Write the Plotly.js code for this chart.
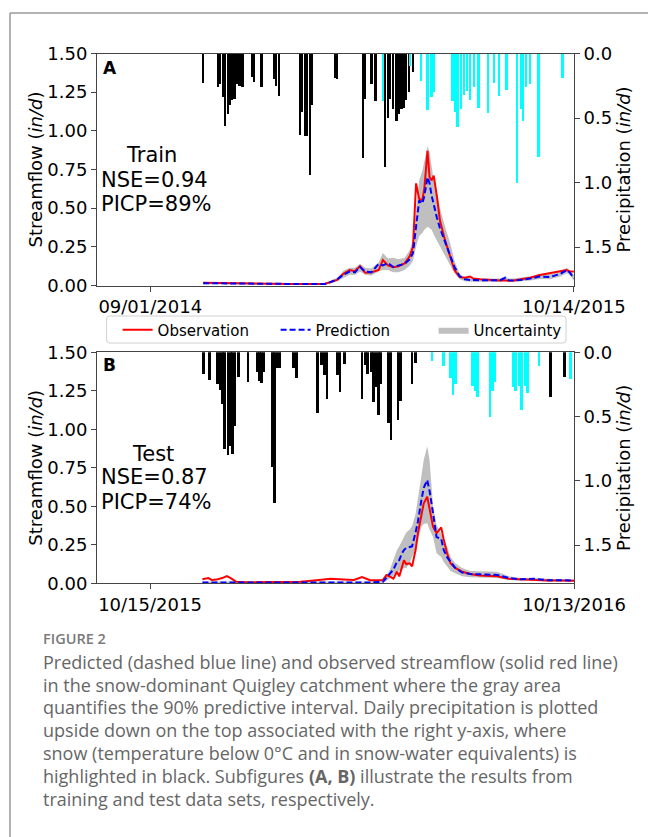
<!DOCTYPE html>
<html>
<head>
<meta charset="utf-8">
<script src="https://cdn.plot.ly/plotly-3.0.1.min.js"></script>
<style>
  html, body { margin: 0; padding: 0; background: #ffffff; }
  #chart { width: 648px; height: 837px; }
</style>
</head>
<body>
<div id="chart"></div>
<script>
// ---------- Panel A: training period (days counted from 09/01/2014) ----------
const trainDays = [51, 77, 106, 135, 168, 173, 180, 186, 192, 197, 202, 207, 213, 220, 224, 229, 234, 239, 245, 250,
                   253, 256, 259, 262, 264, 267, 269, 271, 273, 276, 279, 284, 289, 293, 298, 303, 308, 311, 318, 327,
                   337, 342, 345, 350, 356, 366, 375, 385, 395, 401, 404, 408];
const trainObs = [0.018, 0.014, 0.012, 0.010, 0.010, 0.020, 0.036, 0.075, 0.100, 0.092, 0.125, 0.082, 0.085, 0.100, 0.165, 0.130, 0.118, 0.125, 0.143, 0.190,
                  0.250, 0.660, 0.560, 0.550, 0.630, 0.870, 0.700, 0.680, 0.710, 0.580, 0.420, 0.290, 0.180, 0.100, 0.055, 0.050, 0.058, 0.045, 0.040, 0.035,
                  0.033, 0.032, 0.030, 0.032, 0.040, 0.050, 0.068, 0.080, 0.090, 0.100, 0.090, 0.090];
const trainPred = [0.015, 0.012, 0.010, 0.010, 0.010, 0.020, 0.040, 0.070, 0.090, 0.085, 0.120, 0.090, 0.085, 0.140, 0.130, 0.145, 0.120, 0.130, 0.140, 0.170,
                   0.210, 0.380, 0.550, 0.530, 0.580, 0.700, 0.660, 0.580, 0.520, 0.440, 0.370, 0.280, 0.200, 0.120, 0.060, 0.040, 0.035, 0.035, 0.033, 0.033,
                   0.034, 0.050, 0.034, 0.032, 0.035, 0.045, 0.058, 0.055, 0.075, 0.100, 0.085, 0.045];
const trainUpper = [0.022, 0.018, 0.016, 0.015, 0.016, 0.030, 0.050, 0.095, 0.115, 0.115, 0.140, 0.115, 0.110, 0.150, 0.210, 0.175, 0.180, 0.170, 0.180, 0.230,
                    0.300, 0.500, 0.680, 0.740, 0.800, 0.900, 0.860, 0.760, 0.680, 0.600, 0.500, 0.380, 0.270, 0.160, 0.075, 0.050, 0.045, 0.045, 0.043, 0.045,
                    0.045, 0.060, 0.045, 0.045, 0.050, 0.060, 0.075, 0.075, 0.090, 0.115, 0.100, 0.070];
const trainLower = [0.008, 0.006, 0.005, 0.005, 0.005, 0.012, 0.028, 0.050, 0.070, 0.068, 0.090, 0.070, 0.065, 0.090, 0.100, 0.100, 0.085, 0.085, 0.100, 0.130,
                    0.160, 0.250, 0.320, 0.340, 0.360, 0.380, 0.370, 0.360, 0.330, 0.290, 0.250, 0.190, 0.130, 0.080, 0.040, 0.028, 0.025, 0.025, 0.023, 0.022,
                    0.023, 0.035, 0.024, 0.022, 0.025, 0.032, 0.042, 0.040, 0.058, 0.080, 0.070, 0.030];
// daily precipitation (in/d): snow days and rain days
const trainSnowDays = [51, 65, 67, 70, 72, 75, 77, 79, 81, 84, 86, 89, 98, 100, 107, 119, 121, 124, 144, 146,
                       149, 151, 154, 156, 178, 180, 205, 207, 213, 217, 226, 229, 231, 234, 237, 239, 242, 244, 246, 249, 253];
const trainSnow = [0.23, 0.26, 0.24, 0.34, 0.56, 0.47, 0.40, 0.36, 0.35, 0.24, 0.25, 0.26, 0.18, 0.22, 0.26, 0.20, 0.25, 0.33, 0.63, 0.45,
                   0.64, 0.64, 0.94, 0.40, 0.19, 0.20, 0.81, 0.35, 0.24, 0.37, 0.88, 0.50, 0.35, 0.43, 0.52, 0.47, 0.43, 0.42, 0.36, 0.30, 0.14];
const trainRainDays = [224, 250, 261, 267, 271, 273, 291, 294, 296, 299, 302, 305, 308, 312, 316, 325, 331, 336, 343, 353,
                       357, 359, 362, 366, 374, 397];
const trainRain = [0.37, 0.10, 0.21, 0.44, 0.34, 0.30, 0.37, 0.45, 0.57, 0.43, 0.32, 0.29, 0.36, 0.26, 0.42, 0.46, 0.23, 0.33, 0.28, 1.00,
                   0.43, 0.52, 0.26, 0.24, 0.80, 0.19];

// ---------- Panel B: test period (days counted from 10/15/2015) ----------
const testDays = [45, 50, 53, 57, 62, 66, 70, 74, 86, 114, 129, 143, 155, 166, 175, 182, 189, 200, 203, 206,
                  209, 212, 214, 216, 218, 220, 223, 225, 228, 230, 233, 235, 238, 240, 243, 246, 250, 252, 255, 258,
                  262, 268, 275, 283, 298, 308, 318, 329, 341, 352, 364];
const testObs = [0.026, 0.034, 0.022, 0.024, 0.034, 0.047, 0.030, 0.010, 0.006, 0.006, 0.010, 0.020, 0.030, 0.025, 0.022, 0.040, 0.020, 0.022, 0.054, 0.043,
                 0.030, 0.075, 0.045, 0.097, 0.150, 0.125, 0.130, 0.110, 0.216, 0.325, 0.455, 0.520, 0.562, 0.480, 0.367, 0.325, 0.363, 0.290, 0.195, 0.130,
                 0.100, 0.075, 0.060, 0.050, 0.045, 0.030, 0.026, 0.024, 0.018, 0.018, 0.016];
const testPred = [0.006, 0.006, 0.006, 0.006, 0.006, 0.006, 0.006, 0.005, 0.005, 0.005, 0.005, 0.005, 0.005, 0.005, 0.005, 0.005, 0.005, 0.010, 0.036, 0.060,
                  0.090, 0.140, 0.150, 0.190, 0.216, 0.230, 0.235, 0.240, 0.330, 0.400, 0.540, 0.620, 0.670, 0.600, 0.455, 0.300, 0.290, 0.220, 0.170, 0.140,
                  0.100, 0.070, 0.060, 0.058, 0.054, 0.035, 0.026, 0.030, 0.020, 0.020, 0.018];
const testUpper = [0.012, 0.012, 0.012, 0.012, 0.012, 0.012, 0.012, 0.011, 0.011, 0.011, 0.011, 0.011, 0.011, 0.011, 0.011, 0.012, 0.012, 0.020, 0.050, 0.090,
                   0.150, 0.216, 0.240, 0.270, 0.300, 0.330, 0.350, 0.370, 0.450, 0.540, 0.700, 0.800, 0.890, 0.800, 0.500, 0.380, 0.325, 0.290, 0.240, 0.170,
                   0.130, 0.100, 0.080, 0.078, 0.075, 0.045, 0.035, 0.035, 0.028, 0.026, 0.024];
const testLower = [0.002, 0.002, 0.002, 0.002, 0.002, 0.002, 0.002, 0.002, 0.002, 0.002, 0.002, 0.002, 0.002, 0.002, 0.002, 0.002, 0.002, 0.003, 0.015, 0.030,
                   0.050, 0.075, 0.080, 0.090, 0.100, 0.100, 0.130, 0.170, 0.216, 0.280, 0.367, 0.385, 0.390, 0.350, 0.300, 0.195, 0.170, 0.140, 0.110, 0.080,
                   0.065, 0.045, 0.040, 0.038, 0.035, 0.022, 0.016, 0.020, 0.012, 0.012, 0.010];
const testSnowDays = [46, 51, 58, 60, 62, 64, 67, 69, 71, 73, 76, 84, 92, 94, 96, 98, 105, 107, 109, 111,
                      123, 126, 144, 147, 150, 152, 161, 163, 167, 182, 185, 187, 190, 192, 194, 196, 198, 205, 207, 213,
                      215, 225, 228, 344, 356];
const testSnow = [0.17, 0.215, 0.25, 0.29, 0.40, 0.75, 0.80, 0.73, 0.79, 0.57, 0.19, 0.23, 0.15, 0.22, 0.24, 0.15, 0.89, 1.17, 0.12, 0.12,
                  0.12, 0.20, 0.47, 0.10, 0.18, 0.36, 0.18, 0.31, 0.09, 0.36, 0.10, 0.17, 0.15, 0.39, 0.27, 0.49, 0.25, 0.55, 0.68, 0.53,
                  0.38, 0.25, 0.08, 0.35, 0.19];
const testRainDays = [242, 252, 258, 260, 262, 277, 279, 281, 292, 294, 296, 312, 314, 317, 319, 322, 324, 334, 361];
const testRain = [0.07, 0.11, 0.20, 0.33, 0.25, 0.26, 0.30, 0.35, 0.50, 0.30, 0.23, 0.27, 0.30, 0.26, 0.45, 0.26, 0.32, 0.11, 0.21];

// ---------- axis labels ----------
const trainTickVals = [0, 408];
const trainTickText = ['09/01/2014', '10/14/2015'];
const testTickVals = [0, 364];
const testTickText = ['10/15/2015', '10/13/2016'];
const flowTicks = [0, 0.25, 0.5, 0.75, 1.0, 1.25, 1.5];
const precipTicks = [0, 0.5, 1.0, 1.5];

const captionLines = [
  'Predicted (dashed blue line) and observed streamflow (solid red line)',
  'in the snow-dominant Quigley catchment where the gray area',
  'quantifies the 90% predictive interval. Daily precipitation is plotted',
  'upside down on the top associated with the right y-axis, where',
  'snow (temperature below 0°C and in snow-water equivalents) is',
  'highlighted in black. Subfigures <b>(A, B)</b> illustrate the results from',
  'training and test data sets, respectively.'
];

// ---------- drawing ----------
const W = 648, H = 837;
const px = v => v / W;          // pixel column -> paper x
const py = v => 1 - v / H;      // pixel row -> paper y
const FONT = 'DejaVu Sans, Arial, sans-serif';
const CAP_FONT = '"Open Sans", "Noto Sans", sans-serif';

const RED = '#ff0000', BLUE = '#0000ff', BAND = '#bfbfbf';

function panelTraces(xa, ya, ya2, days, obs, pred, up, lo, sd, sv, rd, rv, legend) {
  return [
    { x: days, y: lo, xaxis: xa, yaxis: ya, type: 'scatter', mode: 'lines',
      line: { width: 0, color: BAND }, showlegend: false, hoverinfo: 'skip' },
    { x: days, y: up, xaxis: xa, yaxis: ya, type: 'scatter', mode: 'lines',
      fill: 'tonexty', fillcolor: BAND, line: { width: 0, color: BAND },
      name: 'Uncertainty', showlegend: legend, legendrank: 3 },
    { x: days, y: obs, xaxis: xa, yaxis: ya, type: 'scatter', mode: 'lines',
      line: { color: RED, width: 2 }, name: 'Observation', showlegend: legend, legendrank: 1 },
    { x: days, y: pred, xaxis: xa, yaxis: ya, type: 'scatter', mode: 'lines',
      line: { color: BLUE, width: 2, dash: '6px,3px' }, name: 'Prediction', showlegend: legend, legendrank: 2 },
    { x: sd, y: sv, xaxis: xa, yaxis: ya2, type: 'bar', width: 2.3,
      marker: { color: '#000000', line: { width: 0 } }, showlegend: false, name: 'Snow' },
    { x: rd, y: rv, xaxis: xa, yaxis: ya2, type: 'bar', width: 2.3,
      marker: { color: '#00ffff', line: { width: 0 } }, showlegend: false, name: 'Rain' }
  ];
}

const data = [].concat(
  panelTraces('x', 'y', 'y2', trainDays, trainObs, trainPred, trainUpper, trainLower,
              trainSnowDays, trainSnow, trainRainDays, trainRain, true),
  panelTraces('x2', 'y3', 'y4', testDays, testObs, testPred, testUpper, testLower,
              testSnowDays, testSnow, testRainDays, testRain, false)
);

const xDomain = [px(97), px(574)];
const domA = [py(285.5), py(53.5)];
const domB = [py(583.3), py(352.3)];
const LINE = '#444444';
const tickFont = { family: FONT, size: 18, color: '#000' };

function xAxis(anchor, range, vals, text) {
  return { domain: xDomain, anchor: anchor, range: range, tickvals: vals, ticktext: text,
           ticks: 'outside', ticklen: 5, tickcolor: LINE, showline: true, linecolor: LINE, linewidth: 1,
           mirror: true, showgrid: false, zeroline: false, tickfont: tickFont, fixedrange: true };
}
function flowAxis(anchor, dom) {
  return { domain: dom, anchor: anchor, range: [0, 1.5], tickvals: flowTicks, tickformat: '.2f',
           ticks: 'outside', ticklen: 5, tickcolor: LINE, showline: true, linecolor: LINE, linewidth: 1,
           showgrid: false, zeroline: false, tickfont: tickFont,
           title: { text: 'Streamflow (<i>in/d</i>)', font: { family: FONT, size: 18, color: '#000' }, standoff: 0 } };
}
function precipAxis(anchor, over) {
  return { overlaying: over, anchor: anchor, side: 'right', range: [1.798, 0], tickvals: precipTicks, tickformat: '.1f',
           ticks: 'outside', ticklen: 5, tickcolor: LINE, showline: true, linecolor: LINE, linewidth: 1,
           showgrid: false, zeroline: false, tickfont: tickFont,
           title: { text: 'Precipitation (<i>in/d</i>)', font: { family: FONT, size: 18, color: '#000' }, standoff: 6 } };
}

const annotations = [];
function label(text, x, y, size, xanchor) {
  annotations.push({ text: text, xref: 'paper', yref: 'paper', x: px(x), y: py(y),
    xanchor: xanchor, yanchor: 'middle', showarrow: false,
    font: { family: FONT, size: size, color: '#000' } });
}
label('<b>A</b>', 101, 67.5, 17, 'left');
label('Train', 151.5, 155.3, 21, 'center');
label('NSE=0.94', 99, 179.5, 21, 'left');
label('PICP=89%', 99, 203.5, 21, 'left');
label('<b>B</b>', 101, 364.7, 17, 'left');
label('Test', 152.5, 453.8, 21, 'center');
label('NSE=0.87', 99, 477.5, 21, 'left');
label('PICP=74%', 99, 501.5, 21, 'left');

annotations.push({ text: 'FIGURE 2', xref: 'paper', yref: 'paper', x: px(41), y: py(638.5),
  xanchor: 'left', yanchor: 'middle', showarrow: false,
  font: { family: CAP_FONT, size: 14.5, color: '#7a7a7a', weight: 600 } });
captionLines.forEach((line, i) => {
  annotations.push({ text: line, xref: 'paper', yref: 'paper', x: px(41), y: py(661.8 + i * 22.8),
    xanchor: 'left', yanchor: 'middle', showarrow: false,
    font: { family: CAP_FONT, size: 18, color: '#666666' } });
});

// rounded legend frame (paper coordinates)
function roundedRect(x0, y0, x1, y1, r) {
  const X0 = px(x0), X1 = px(x1), Yt = py(y0), Yb = py(y1);
  const rx = r / W, ry = r / H;
  return `M${X0 + rx},${Yt} L${X1 - rx},${Yt} Q${X1},${Yt} ${X1},${Yt - ry} L${X1},${Yb + ry} ` +
         `Q${X1},${Yb} ${X1 - rx},${Yb} L${X0 + rx},${Yb} Q${X0},${Yb} ${X0},${Yb + ry} L${X0},${Yt - ry} ` +
         `Q${X0},${Yt} ${X0 + rx},${Yt} Z`;
}

const layout = {
  width: W, height: H,
  margin: { l: 0, r: 0, t: 0, b: 0 },
  paper_bgcolor: '#ffffff', plot_bgcolor: '#ffffff',
  barmode: 'overlay', bargap: 0,
  showlegend: true,
  legend: { orientation: 'h', x: px(117.6), xanchor: 'left', y: py(313.5), yanchor: 'top',
            bgcolor: 'rgba(0,0,0,0)', borderwidth: 0,
            font: { family: FONT, size: 15, color: '#000' },
            entrywidth: 113, entrywidthmode: 'pixels', traceorder: 'normal' },
  xaxis: xAxis('y', [-51.3, 408.1], trainTickVals, trainTickText),
  yaxis: flowAxis('x', domA),
  yaxis2: precipAxis('x', 'y'),
  xaxis2: xAxis('y3', [-45.5, 364], testTickVals, testTickText),
  yaxis3: flowAxis('x2', domB),
  yaxis4: precipAxis('x2', 'y3'),
  annotations: annotations,
  shapes: [
    { type: 'line', xref: 'paper', yref: 'paper', x0: px(10), x1: px(10), y0: 0, y1: py(13),
      line: { color: '#9a9a9a', width: 1.5 } },
    { type: 'line', xref: 'paper', yref: 'paper', x0: px(10), x1: 1, y0: py(13), y1: py(13),
      line: { color: '#9a9a9a', width: 1.5 } },
    { type: 'path', xref: 'paper', yref: 'paper', path: roundedRect(106.6, 316, 566, 343, 3),
      fillcolor: '#ffffff', line: { color: '#d0d0d0', width: 1 }, layer: 'above' }
  ]
};

Plotly.newPlot('chart', data, layout, { staticPlot: true, displayModeBar: false });
</script>
</body>
</html>
